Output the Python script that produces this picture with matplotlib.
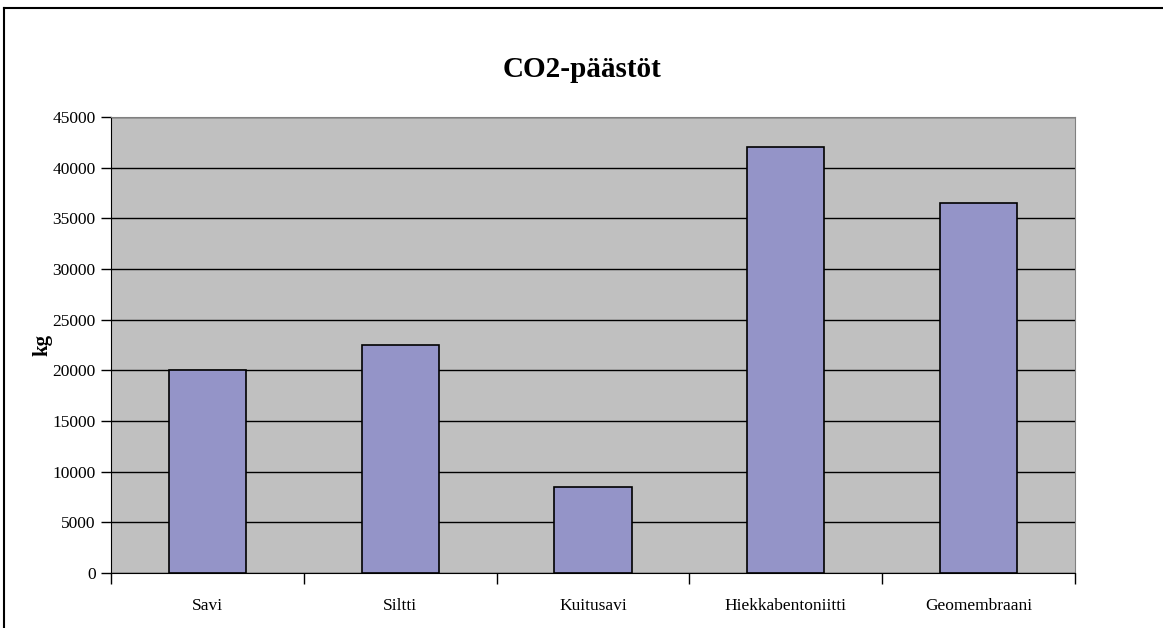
import matplotlib.pyplot as plt
from matplotlib.lines import Line2D
import numpy as np

categories = ["Savi", "Siltti", "Kuitusavi", "Hiekkabentoniitti", "Geomembraani"]
emissions = [20000, 22500, 8500, 42000, 36500]
y_ticks = [0, 5000, 10000, 15000, 20000, 25000, 30000, 35000, 40000, 45000]

plt.rcParams['font.family'] = ['Liberation Serif', 'DejaVu Serif']

fig = plt.figure(figsize=(11.63, 6.28), dpi=100)
ax = fig.add_axes([0.0954, 0.0876, 0.829, 0.7261])
ax.set_facecolor('#c0c0c0')

x = np.arange(len(categories))
ax.bar(x, emissions, width=0.4, color='#9494c8', edgecolor='black', linewidth=1.2, zorder=3)

ax.set_xlim(-0.5, len(categories) - 0.5)
ax.set_ylim(0, 45000)
ax.set_yticks(y_ticks)
ax.set_yticklabels([str(v) for v in y_ticks], fontsize=12.5)
ax.yaxis.grid(True, color='black', linewidth=1.0, zorder=1)
ax.set_axisbelow(True)

# category labels in the middle, tick marks on the boundaries
ax.set_xticks(x)
ax.set_xticklabels(categories, fontsize=12.5)
ax.set_xticks(np.arange(-0.5, len(categories)), minor=True)
ax.tick_params(axis='x', which='major', length=0, pad=18)
ax.tick_params(axis='x', which='minor', length=8, width=1, direction='out')
ax.tick_params(axis='y', length=7, width=1, direction='out', pad=4)

for side in ['top', 'right']:
    ax.spines[side].set_color('#808080')
for side in ['left', 'bottom']:
    ax.spines[side].set_color('black')

ax.set_ylabel('kg', fontsize=15, fontweight='bold')
ax.yaxis.set_label_coords(-0.061, 0.5)
fig.text(0.5, 0.889, 'CO2-päästöt', ha='center', va='center', fontsize=21, fontweight='bold')

# chart frame
fig.add_artist(Line2D([0.0035, 1.0], [0.987, 0.987], color='black', linewidth=1.5, transform=fig.transFigure))
fig.add_artist(Line2D([0.0035, 0.0035], [0.0, 0.987], color='black', linewidth=1.5, transform=fig.transFigure))

fig.savefig('out.png', dpi=100)
